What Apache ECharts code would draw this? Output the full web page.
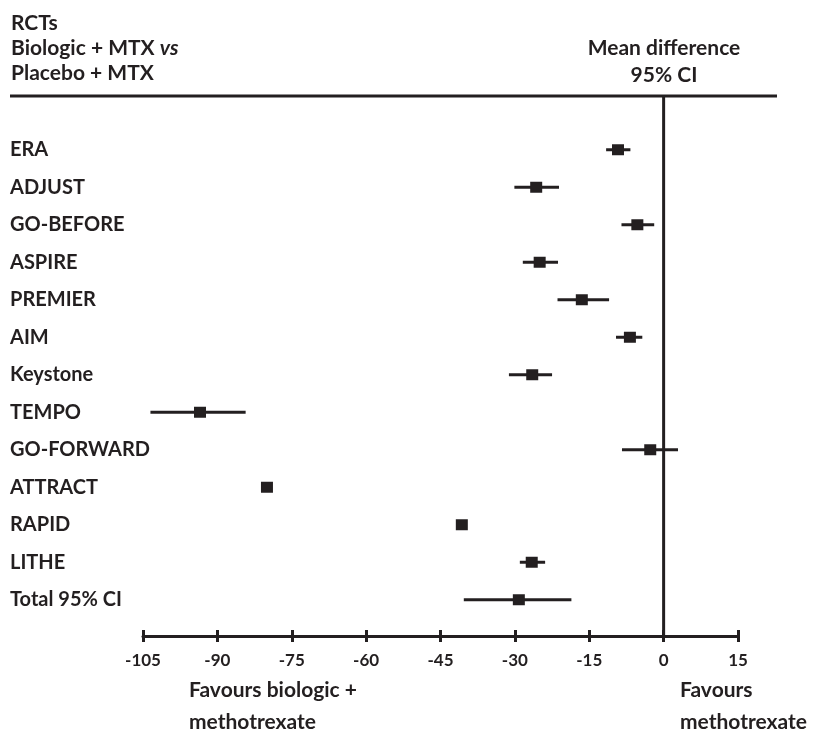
<!DOCTYPE html>
<html>
<head>
<meta charset="utf-8">
<script src="https://cdn.jsdelivr.net/npm/echarts@6/dist/echarts.min.js"></script>
<style>
  html, body { margin: 0; padding: 0; background: #fff; }
  #forest { width: 813px; height: 729px; }
</style>
</head>
<body>
<div id="forest"></div>
<script>
// studies, top to bottom
var studies = ["ERA", "ADJUST", "GO-BEFORE", "ASPIRE", "PREMIER", "AIM", "Keystone",
  "TEMPO", "GO-FORWARD", "ATTRACT", "RAPID", "LITHE", "Total 95% CI"];
var meanDiff = [-9.2, -25.7, -5.3, -25.0, -16.5, -6.8, -26.5, -93.5, -2.7, -80.0, -40.7, -26.6, -29.2];
var ciLow = [-11.6, -30.1, -8.5, -28.4, -21.4, -9.6, -31.2, -103.5, -8.4, -80.5, -41.3, -29.0, -40.3];
var ciHigh = [-6.7, -21.1, -1.9, -21.3, -11.0, -4.3, -22.5, -84.3, 2.9, -79.5, -40.1, -23.9, -18.6];
var xTicks = [-105, -90, -75, -60, -45, -30, -15, 0, 15];
var zeroLine = [[0, 0], [0, 1]];

var ink = "#231f20";
var font = "Lato";

var chart = echarts.init(document.getElementById("forest"));

var rows = [];
for (var i = 0; i < studies.length; i++) {
  rows.push([i, meanDiff[i], ciLow[i], ciHigh[i]]);
}

function drawRow(params, api) {
  var idx = api.value(0);
  var mid = api.coord([api.value(1), idx]);
  var lo = api.coord([api.value(2), idx]);
  var hi = api.coord([api.value(3), idx]);
  return {
    type: "group",
    children: [
      {
        type: "line",
        shape: { x1: lo[0], y1: lo[1], x2: hi[0], y2: hi[1] },
        style: { stroke: ink, lineWidth: 3 }
      },
      {
        type: "rect",
        shape: { x: mid[0] - 6, y: mid[1] - 5.5, width: 12, height: 11 },
        style: { fill: ink }
      }
    ]
  };
}

function headText(txt, x, y, align) {
  return {
    type: "text", x: x, y: y,
    style: { text: txt, fill: ink, font: "bold 21px " + font, align: align, verticalAlign: "middle" }
  };
}

var option = {
  animation: false,
  grid: [
    { left: 143, right: 75, top: 131, height: 487.5 },
    { left: 143, right: 75, top: 96, bottom: 93 }
  ],
  xAxis: [
    { gridIndex: 0, type: "value", min: -105, max: 15, show: false },
    {
      gridIndex: 1, type: "value", position: "bottom", min: -105, max: 15, interval: 15,
      axisLine: { show: true, lineStyle: { color: ink, width: 3 } },
      axisTick: { show: false },
      splitLine: { show: false },
      axisLabel: {
        color: ink, fontFamily: font, fontWeight: "bold", fontSize: 17, margin: 16,
        customValues: xTicks
      }
    },
    {
      gridIndex: 1, type: "value", position: "bottom", min: -105, max: 15, interval: 15, offset: -6,
      axisLine: { show: false },
      axisTick: { show: true, length: 12, lineStyle: { color: ink, width: 3 } },
      axisLabel: { show: false },
      splitLine: { show: false }
    }
  ],
  yAxis: [
    {
      gridIndex: 0, type: "category", data: studies, inverse: true,
      axisLine: { show: false }, axisTick: { show: false },
      axisLabel: {
        align: "left", margin: 133, color: ink,
        fontFamily: font, fontWeight: "bold", fontSize: 20
      }
    },
    { gridIndex: 1, type: "value", min: 0, max: 1, show: false }
  ],
  series: [
    {
      type: "line", xAxisIndex: 1, yAxisIndex: 1, data: zeroLine,
      symbol: "none", lineStyle: { color: ink, width: 3 }, silent: true
    },
    {
      type: "custom", xAxisIndex: 0, yAxisIndex: 0, data: rows,
      renderItem: drawRow, silent: true
    }
  ],
  graphic: [
    {
      type: "line", shape: { x1: 10, y1: 96, x2: 777, y2: 96 },
      style: { stroke: ink, lineWidth: 3 }
    },
    headText("RCTs", 11, 23, "left"),
    {
      type: "text", x: 11, y: 48,
      style: {
        text: "{n|Biologic + MTX }{i|vs}",
        verticalAlign: "middle",
        rich: {
          n: { fill: ink, fontFamily: font, fontWeight: "bold", fontSize: 21 },
          i: { fill: ink, fontFamily: font, fontWeight: "bold", fontStyle: "italic", fontSize: 21 }
        }
      }
    },
    headText("Placebo + MTX", 11, 73, "left"),
    headText("Mean difference", 664, 48, "center"),
    headText("95% CI", 664, 75, "center"),
    {
      type: "text", x: 189, y: 706,
      style: { text: "Favours biologic +\nmethotrexate", fill: ink, font: "bold 21px " + font, lineHeight: 32, verticalAlign: "middle" }
    },
    {
      type: "text", x: 680, y: 706,
      style: { text: "Favours\nmethotrexate", fill: ink, font: "bold 21px " + font, lineHeight: 32, verticalAlign: "middle" }
    }
  ]
};

chart.setOption(option);
</script>
</body>
</html>
